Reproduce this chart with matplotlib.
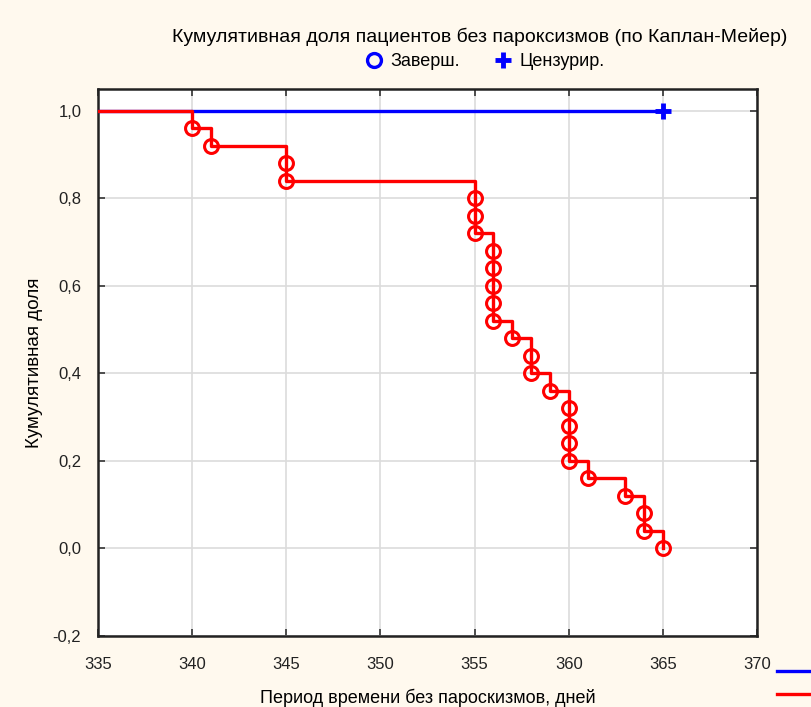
import matplotlib
matplotlib.use("Agg")
import matplotlib.pyplot as plt
from matplotlib.lines import Line2D

plt.rcParams['font.family'] = ['Liberation Sans', 'DejaVu Sans']

# Kaplan-Meier: events (completed) group
event_days = [340, 341, 345, 345, 355, 355, 355, 356, 356, 356, 356, 356,
              357, 358, 358, 359, 360, 360, 360, 360, 361, 363, 364, 364, 365]
event_surv = [0.96, 0.92, 0.88, 0.84, 0.80, 0.76, 0.72, 0.68, 0.64, 0.60, 0.56, 0.52,
              0.48, 0.44, 0.40, 0.36, 0.32, 0.28, 0.24, 0.20, 0.16, 0.12, 0.08, 0.04, 0.00]

# censored group
cens_days = [335, 365]
cens_surv = [1.0, 1.0]

BG = '#fff9ee'
fig = plt.figure(figsize=(8.12, 7.07), dpi=100, facecolor=BG)
ax = fig.add_axes([98 / 812, 1 - 636 / 707, (757 - 98) / 812, (636 - 89) / 707])
ax.set_facecolor('white')

# blue censored line
ax.plot(cens_days, cens_surv, color='#0000ff', lw=2.4, zorder=3)
ax.plot([cens_days[-1]], [cens_surv[-1]], marker='+', color='#0000ff', ms=12,
        markeredgewidth=3.5, zorder=5)

# red step line
xs = [335] + event_days
ys = [1.0] + event_surv
ax.step(xs, ys, where='post', color='#ff0000', lw=2.4, zorder=4)
ax.plot(event_days, event_surv, ls='none', marker='o', ms=10, mfc='none',
        mec='#ff0000', mew=2.2, zorder=6)

ax.set_xlim(335, 370)
ax.set_ylim(-0.2, 1.05)
ax.set_xticks(range(335, 371, 5))
ax.set_yticks([-0.2, 0.0, 0.2, 0.4, 0.6, 0.8, 1.0])
ax.set_yticklabels([f"{v:.1f}".replace('.', ',') for v in ax.get_yticks()])
ax.grid(True, color='#dcdcdc', lw=1.2)
ax.set_axisbelow(True)
ax.tick_params(direction='in', length=5, width=1.2, top=True, right=True,
               labelsize=12, colors='#333333', labelcolor='#222222')
ax.tick_params(axis='x', pad=15)
ax.tick_params(axis='y', pad=12)
for s in ax.spines.values():
    s.set_linewidth(1.8)
    s.set_color('#222222')

ax.set_xlabel('Период времени без пароскизмов, дней', fontsize=13, labelpad=12)
ax.set_ylabel('Кумулятивная доля', fontsize=13.5, labelpad=7)

fig.text(480 / 812, 1 - 37 / 707,
         'Кумулятивная доля пациентов без пароксизмов (по Каплан-Мейер)',
         ha='center', va='center', fontsize=14)

handles = [Line2D([], [], ls='none', marker='o', ms=10, mfc='none', mec='#0000ff', mew=2.4),
           Line2D([], [], ls='none', marker='+', ms=12, color='#0000ff', markeredgewidth=3.5)]
fig.legend(handles, ['Заверш.', 'Цензурир.'], loc='center', ncol=2,
           bbox_to_anchor=(484 / 812, 1 - 62 / 707), frameon=False,
           fontsize=13, handletextpad=0.3, columnspacing=1.8, handlelength=1.2)

# cut-off series legend lines at bottom right
fig.add_artist(Line2D([777 / 812, 1.0], [1 - 671 / 707] * 2, color='#0000ff', lw=2.4))
fig.add_artist(Line2D([777 / 812, 1.0], [1 - 694 / 707] * 2, color='#ff0000', lw=2.4))

fig.savefig('out.png', dpi=100, facecolor=BG)
